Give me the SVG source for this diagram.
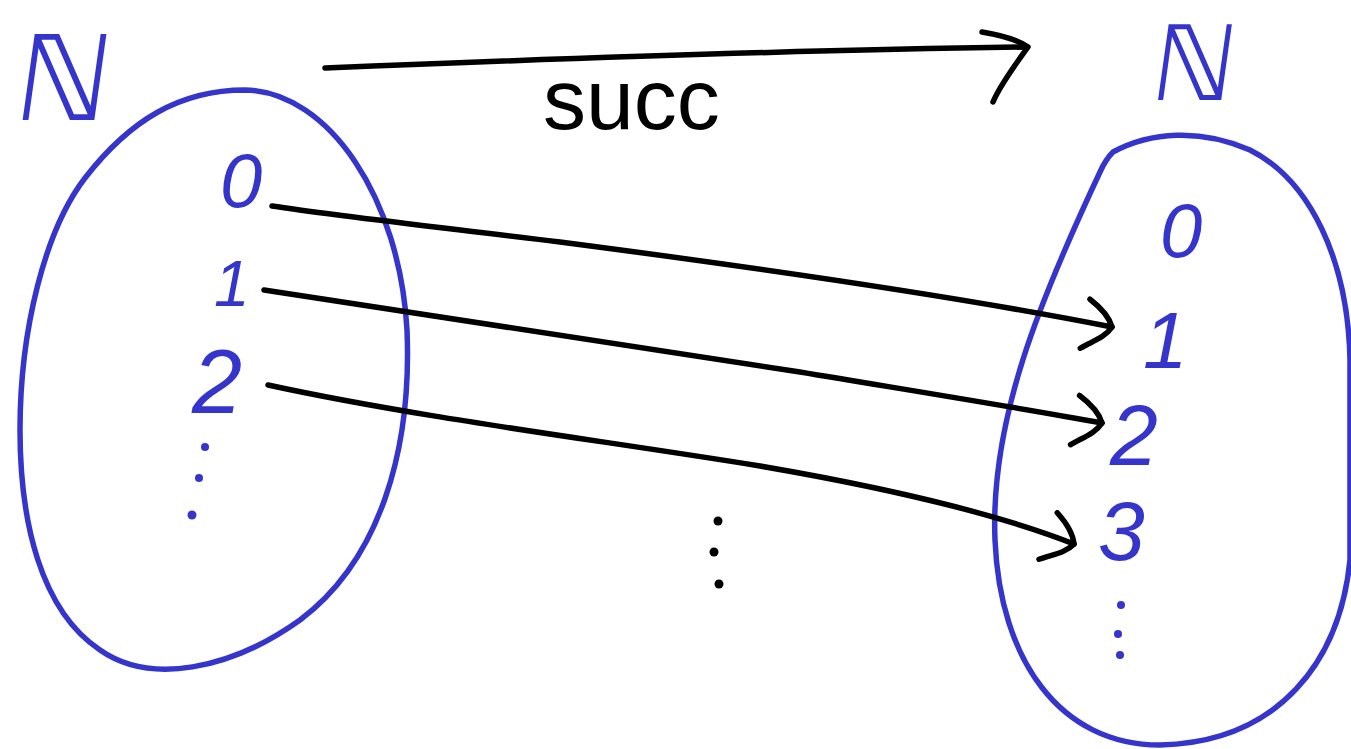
<svg xmlns="http://www.w3.org/2000/svg" width="1351" height="749" viewBox="0 0 1351 749">
<style>
.blob{fill:none;stroke:#3535CC;stroke-width:5.5;stroke-linecap:round;stroke-linejoin:round}
.blue{fill:#3535CC;font-family:"DejaVu Sans",sans-serif}
.num{fill:#3535CC;font-family:"Liberation Sans",sans-serif;font-style:italic}
.line{fill:none;stroke:#000;stroke-width:5.5;stroke-linecap:round;stroke-linejoin:round}
.bdot{fill:#3535CC}
.kdot{fill:#000}
</style>
<defs>
<marker id="head" viewBox="0 0 34 56" refX="31" refY="26" markerWidth="34" markerHeight="56" markerUnits="userSpaceOnUse" orient="auto">
<path d="M4,3 C14,8 26,16 31,26 C26,38 14,44 4,53" fill="none" stroke="#000" stroke-width="5.5" stroke-linecap="round"/>
</marker>
</defs>
<rect width="1351" height="749" fill="#fff"/>
<g id="left-set">
<path class="blob" d="M85,178 C130,120 180,90 245,90 C330,92 400,200 407,330 C412,450 380,560 300,620 C230,670 150,685 100,650 C40,610 20,520 20,430 C20,330 45,230 85,178 Z"/>
<text class="blue" x="14" y="120" font-size="118" transform="skewX(-8) translate(14,0)">ℕ</text>
<text class="num" x="220" y="207" font-size="76">0</text>
<text class="num" x="214" y="306" font-size="64">1</text>
<text class="num" x="192" y="413" font-size="90">2</text>
<circle class="bdot" cx="205" cy="447" r="4"/>
<circle class="bdot" cx="199" cy="478" r="4"/>
<circle class="bdot" cx="192" cy="515" r="4.5"/>
</g>
<g id="right-set">
<path class="blob" d="M1113,152 C1150,132 1200,128 1250,150 C1310,180 1348,260 1350,360 L1350,560 C1340,660 1280,742 1160,745 C1060,745 1000,660 995,540 C990,420 1040,300 1100,172 C1104,163 1108,157 1113,152 Z"/>
<text class="blue" x="1150" y="100" font-size="104" transform="skewX(-8) translate(12,0)">ℕ</text>
<text class="num" x="1160" y="257" font-size="76">0</text>
<text class="num" x="1143" y="368" font-size="80">1</text>
<text class="num" x="1110" y="465" font-size="86">2</text>
<text class="num" x="1098" y="560" font-size="84">3</text>
<circle class="bdot" cx="1121" cy="605" r="4"/>
<circle class="bdot" cx="1118" cy="634" r="4"/>
<circle class="bdot" cx="1120" cy="655" r="4"/>
</g>
<g id="label-succ">
<text x="543" y="129" font-family="Liberation Sans, sans-serif" font-size="86" fill="#000">succ</text>
</g>
<g id="connectors">
<path class="line" d="M325,68 C520,60 800,50 1026,47"/>
<path class="line" d="M982,32 C1000,35 1018,40 1028,47 C1015,65 1000,85 993,102"/>
<path class="line" d="M272,206 C330,215 420,225 560,242 C760,268 950,295 1112,327" marker-end="url(#head)"/>
<path class="line" d="M264,290 C400,312 600,340 800,372 C920,392 1020,408 1102,423" marker-end="url(#head)"/>
<path class="line" d="M268,385 C420,418 600,440 760,466 C900,490 1000,515 1074,544" marker-end="url(#head)"/>
<circle class="kdot" cx="718" cy="521" r="4.5"/>
<circle class="kdot" cx="714" cy="552" r="4.5"/>
<circle class="kdot" cx="719" cy="584" r="4.5"/>
</g>
</svg>
